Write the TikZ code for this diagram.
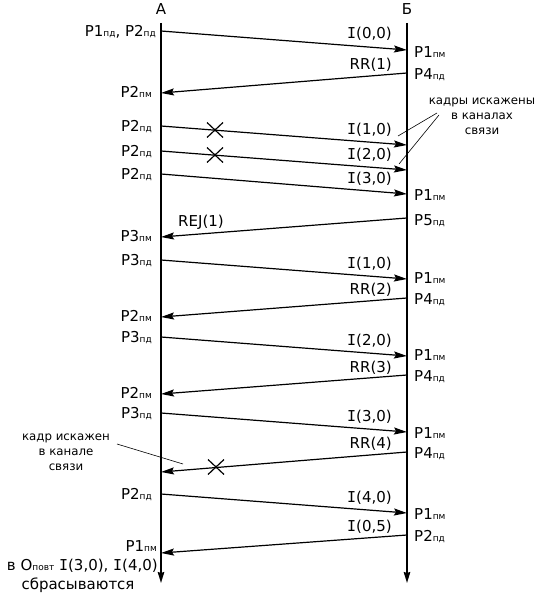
\documentclass[tikz,border=0pt]{standalone}
\usepackage{fontspec}
\setmainfont{DejaVu Sans}
\newfontfamily\monoIfont{DejaVu Sans Mono}
\usetikzlibrary{arrows.meta}
\newcommand\sbs[1]{{\fontsize{9}{10}\selectfont #1}}
\newcommand\Ii{{\monoIfont I}}
\tikzset{
  lifeline/.style={line width=1.7pt,-{Stealth[length=11pt,width=6.5pt,inset=1pt]}},
  msg/.style={line width=1.2pt,-{Stealth[length=13pt,width=7pt,inset=2pt]}},
  lbl/.style={font=\fontsize{15}{17}\selectfont, inner sep=1pt, text height=11pt, text depth=0pt},
  note/.style={font=\fontsize{11.8}{15}\selectfont, align=center, inner sep=0pt},
  pointer/.style={line width=0.6pt},
  cross/.style={line width=1.2pt}
}
\begin{document}
\begin{tikzpicture}[x=1pt,y=-1pt]
\useasboundingbox (0,0) rectangle (538,599);
% lifelines
\coordinate (Atop) at (161,23); \coordinate (Abot) at (161,583);
\coordinate (Btop) at (407,23); \coordinate (Bbot) at (407,583);
\draw[lifeline] (Atop) -- (Abot);
\draw[lifeline] (Btop) -- (Bbot);
\node[lbl] (hA) at (161,9) {А};
\node[lbl] (hB) at (407,9) {Б};
% message end points
\coordinate (a1) at (161,31);  \coordinate (b1) at (407,50);
\coordinate (b2) at (407,73);  \coordinate (a2) at (161,93);
\coordinate (a3) at (161,126); \coordinate (b3) at (407,145);
\coordinate (a4) at (161,151); \coordinate (b4) at (407,170);
\coordinate (a5) at (161,174); \coordinate (b5) at (407,194);
\coordinate (b6) at (407,218); \coordinate (a6) at (161,237);
\coordinate (a7) at (161,260); \coordinate (b7) at (407,279);
\coordinate (b8) at (407,298); \coordinate (a8) at (161,317);
\coordinate (a9) at (161,337); \coordinate (b9) at (407,356);
\coordinate (b10) at (407,375); \coordinate (a10) at (161,394);
\coordinate (a11) at (161,413); \coordinate (b11) at (407,432);
\coordinate (b12) at (407,452); \coordinate (a12) at (161,472);
\coordinate (a13) at (161,494); \coordinate (b13) at (407,513);
\coordinate (b14) at (407,535); \coordinate (a14) at (161,553);
% messages
\draw[msg] (a1) -- (b1);
\draw[msg] (b2) -- (a2);
\draw[msg] (a3) -- (b3);
\draw[msg] (a4) -- (b4);
\draw[msg] (a5) -- (b5);
\draw[msg] (b6) -- (a6);
\draw[msg] (a7) -- (b7);
\draw[msg] (b8) -- (a8);
\draw[msg] (a9) -- (b9);
\draw[msg] (b10) -- (a10);
\draw[msg] (a11) -- (b11);
\draw[msg] (b12) -- (a12);
\draw[msg] (a13) -- (b13);
\draw[msg] (b14) -- (a14);
% frame labels
\node[lbl,anchor=east] (f1) at (393,33) {\Ii(0,0)};
\node[lbl,anchor=east] (f2) at (393,64.5) {RR(1)};
\node[lbl,anchor=east] (f3) at (393,128.5) {\Ii(1,0)};
\node[lbl,anchor=east] (f4) at (393,154) {\Ii(2,0)};
\node[lbl,anchor=east] (f5) at (393,177.5) {\Ii(3,0)};
\node[lbl,anchor=west] (f6) at (177,221) {REJ(1)};
\node[lbl,anchor=east] (f7) at (393,262.5) {\Ii(1,0)};
\node[lbl,anchor=east] (f8) at (393,288.5) {RR(2)};
\node[lbl,anchor=east] (f9) at (393,340) {\Ii(2,0)};
\node[lbl,anchor=east] (f10) at (393,367) {RR(3)};
\node[lbl,anchor=east] (f11) at (393,415.5) {\Ii(3,0)};
\node[lbl,anchor=east] (f12) at (393,443) {RR(4)};
\node[lbl,anchor=east] (f13) at (393,497) {\Ii(4,0)};
\node[lbl,anchor=east] (f14) at (393,526) {\Ii(0,5)};
% state labels at A
\node[lbl,anchor=east] (sa1) at (157,31) {P1\sbs{пд}, P2\sbs{пд}};
\node[lbl,anchor=east] (sa2) at (153,92) {P2\sbs{пм}};
\node[lbl,anchor=east] (sa3) at (153,126) {P2\sbs{пд}};
\node[lbl,anchor=east] (sa4) at (153,151) {P2\sbs{пд}};
\node[lbl,anchor=east] (sa5) at (153,174) {P2\sbs{пд}};
\node[lbl,anchor=east] (sa6) at (153,235.5) {P3\sbs{пм}};
\node[lbl,anchor=east] (sa7) at (153,260) {P3\sbs{пд}};
\node[lbl,anchor=east] (sa8) at (153,316) {P2\sbs{пм}};
\node[lbl,anchor=east] (sa9) at (153,337) {P3\sbs{пд}};
\node[lbl,anchor=east] (sa10) at (153,393) {P2\sbs{пм}};
\node[lbl,anchor=east] (sa11) at (153,413) {P3\sbs{пд}};
\node[lbl,anchor=east] (sa13) at (153,494) {P2\sbs{пд}};
\node[lbl,anchor=east] (sa14) at (158,545.5) {P1\sbs{пм}};
% state labels at B
\node[lbl,anchor=west] (sb1) at (413,52) {P1\sbs{пм}};
\node[lbl,anchor=west] (sb2) at (413,74.5) {P4\sbs{пд}};
\node[lbl,anchor=west] (sb5) at (413,195) {P1\sbs{пм}};
\node[lbl,anchor=west] (sb6) at (413,220) {P5\sbs{пд}};
\node[lbl,anchor=west] (sb7) at (413,278) {P1\sbs{пм}};
\node[lbl,anchor=west] (sb8) at (413,299) {P4\sbs{пд}};
\node[lbl,anchor=west] (sb9) at (413,355) {P1\sbs{пм}};
\node[lbl,anchor=west] (sb10) at (413,376) {P4\sbs{пд}};
\node[lbl,anchor=west] (sb11) at (413,433) {P1\sbs{пм}};
\node[lbl,anchor=west] (sb12) at (413,453) {P4\sbs{пд}};
\node[lbl,anchor=west] (sb13) at (413,514) {P1\sbs{пм}};
\node[lbl,anchor=west] (sb14) at (413,536) {P2\sbs{пд}};
% crosses
\foreach \cx/\cy in {215/130, 215/155, 216/467}
  \draw[cross] (\cx-8,\cy-7.5) -- (\cx+8,\cy+7.5) (\cx-8,\cy+7.5) -- (\cx+8,\cy-7.5);
% notes
\node[note] (n1) at (482,116) {кадры искажены\\в каналах\\связи};
\coordinate (n1a) at (437,113); \coordinate (n1b) at (398,136);
\coordinate (n1c) at (439,115); \coordinate (n1d) at (399,164);
\draw[pointer] (n1a) -- (n1b);
\draw[pointer] (n1c) -- (n1d);
\node[note] (n2) at (66,452) {кадр искажен\\в канале\\связи};
\coordinate (n2a) at (117,444); \coordinate (n2b) at (183,464);
\draw[pointer] (n2a) -- (n2b);
% bottom text
\node[lbl,anchor=east] (bt1) at (159,565) {в O\sbs{повт} \Ii(3,0), \Ii(4,0)};
\node[lbl] (bt2) at (78,583.5) {сбрасываются};
\end{tikzpicture}
\end{document}
